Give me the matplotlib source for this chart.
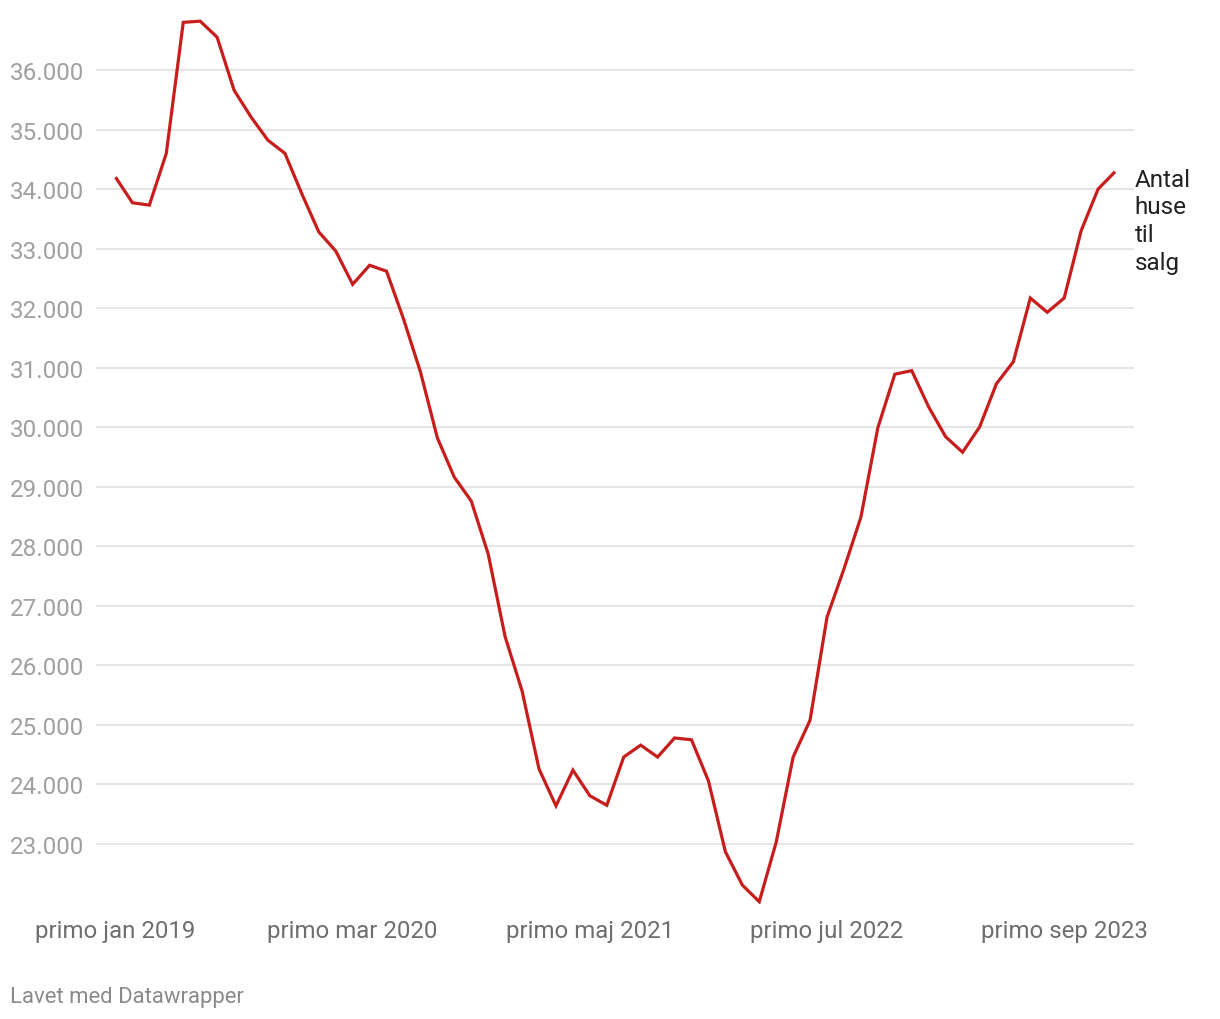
import matplotlib
matplotlib.use("Agg")
import matplotlib.pyplot as plt
import matplotlib.ticker as mticker

# Monthly number of houses for sale, jan 2019 - dec 2023
houses = [
    34200, 33770, 33730, 34600, 36800, 36820, 36550, 35660, 35210, 34820,
    34600, 33920, 33280, 32960, 32400, 32720, 32620, 31820, 30930, 29820,
    29160, 28760, 27870, 26480, 25570, 24260, 23640, 24240, 23810, 23650,
    24460, 24660, 24460, 24780, 24750, 24060, 22870, 22310, 22030, 23030,
    24460, 25080, 26810, 27620, 28490, 29990, 30890, 30950, 30340, 29840,
    29580, 30000, 30730, 31100, 32170, 31930, 32170, 33300, 34000, 34290,
]
months = list(range(len(houses)))

tick_months = [0, 14, 28, 42, 56]
tick_labels = ["primo jan 2019", "primo mar 2020", "primo maj 2021",
               "primo jul 2022", "primo sep 2023"]
y_ticks = list(range(23000, 37000, 1000))
series_label = "Antal\nhuse\ntil\nsalg"

plt.rcParams['font.family'] = ['Roboto', 'DejaVu Sans']

fig = plt.figure(figsize=(12.2, 10.2), dpi=100)
ax = fig.add_axes([96 / 1220, 1 - 904.5 / 1020, 1038 / 1220, 887.1 / 1020])

ax.plot(months, houses, color="#c71e1d", linewidth=2.3, solid_joinstyle="miter",
        solid_capstyle="butt", zorder=3)

ax.set_xlim(-1.15, 60.12)
ax.set_ylim(22000, 36900)

ax.set_yticks(y_ticks)
ax.yaxis.set_major_formatter(mticker.FuncFormatter(lambda v, p: f"{int(v):,}".replace(",", ".")))
ax.grid(axis="y", color="#e5e5e5", linewidth=1.5)
ax.set_axisbelow(True)
ax.tick_params(axis="y", length=0, pad=62, labelsize=17.4, labelcolor="#a0a0a0")
for lab in ax.get_yticklabels():
    lab.set_horizontalalignment("left")

ax.set_xticks(tick_months)
ax.set_xticklabels(tick_labels)
ax.tick_params(axis="x", length=0, pad=11, labelsize=17.3, labelcolor="#6e6e6e")

for s in ax.spines.values():
    s.set_visible(False)

ax.annotate(series_label, xy=(months[-1], houses[-1]), xytext=(14, 3),
            textcoords="offset points", ha="left", va="top", fontsize=17.5,
            color="#222222", linespacing=1.26, annotation_clip=False)

fig.text(10 / 1220, 1 - 998 / 1020, "Lavet med Datawrapper", ha="left", va="center",
         fontsize=15.9, color="#8a8a8a")

fig.savefig("out.png", dpi=100, facecolor="white")
